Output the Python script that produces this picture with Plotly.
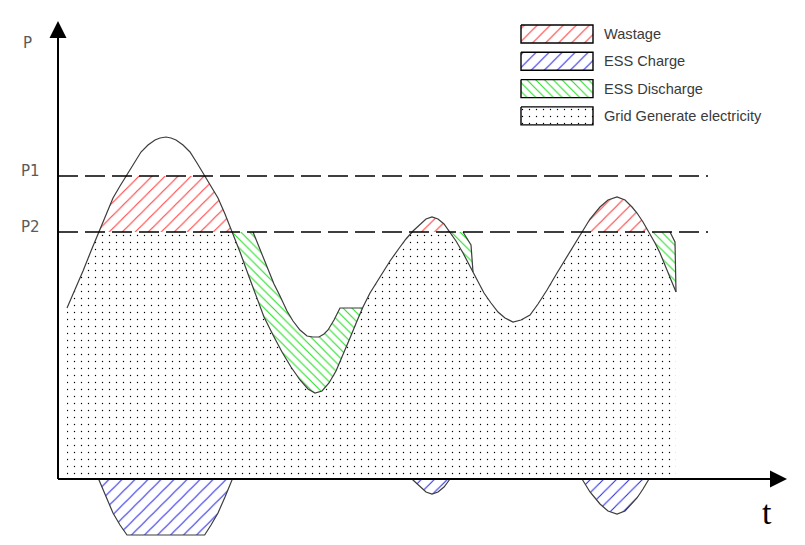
import numpy as np
import plotly.graph_objects as go

# ---------------- data (t = time units, P = power units) ----------------
t_load = [9, 17, 25, 33, 41, 48, 55, 62, 69, 76, 83, 90, 97, 102, 108, 113, 118, 125, 132, 139,
          146, 153, 160, 167, 174, 182, 190, 198, 206, 215, 224, 233, 242, 250, 257, 264, 271,
          278, 285, 292, 299, 305, 312, 322, 332, 342, 348, 355, 362, 368, 374, 380, 386, 392,
          398, 405, 412, 419, 426, 433, 440, 447, 455, 463, 472, 480, 489, 499, 509, 517, 524,
          532, 542, 550, 559, 567, 574, 579, 585, 591, 597, 602, 608, 613, 618]
p_load = [171, 189, 208, 228, 248, 265, 281, 293, 304, 316, 327, 334, 339, 341, 342, 341, 339,
          334, 327, 316, 304, 293, 281, 265, 248, 227, 205, 183, 162, 144, 127, 112, 99, 90, 86,
          88, 96, 108, 124, 141, 158, 172, 186, 202, 218, 232, 240, 248, 255, 260, 262, 260, 255,
          247, 238, 226, 213, 199, 186, 176, 167, 161, 157, 159, 164, 175, 189, 206, 222, 235,
          247, 260, 272, 279, 282, 279, 272, 266, 257, 247, 236, 226, 212, 200, 187]

P1 = 303
P2 = 247

# upper boundaries of the ESS discharge areas
t_dis1 = [174, 195, 202, 209, 216, 222, 229, 235, 242, 249, 255, 261, 266, 270, 276, 282, 305]
p_dis1 = [247, 247, 229, 212, 195, 183, 168, 158, 149, 143, 142, 142, 145, 149, 159, 171, 171]
t_dis2 = [392, 405, 409, 413, 415]
p_dis2 = [247, 247, 241, 234, 207]
t_dis3 = [591, 612, 617, 618]
p_dis3 = [247, 247, 237, 187]

legend_labels = ["Wastage", "ESS Charge", "ESS Discharge", "Grid Generate electricity"]
p_tick_labels = ["P1", "P2"]
axis_names = ["P", "t"]

# ---------------- styles ----------------
RED = "#ff3b3b"
BLUE = "#2b2bea"
GREEN = "#22dd22"
CURVE = "#3c3c3c"
pat_red = dict(shape="/", size=9.2, solidity=0.12, fgcolor=RED, bgcolor="rgba(0,0,0,0)", fillmode="replace")
pat_blue = dict(shape="/", size=9.2, solidity=0.12, fgcolor=BLUE, bgcolor="rgba(0,0,0,0)", fillmode="replace")
pat_green = dict(shape="\\", size=6.2, solidity=0.17, fgcolor=GREEN, bgcolor="rgba(0,0,0,0)", fillmode="replace")
pat_dot = dict(shape=".", size=7, solidity=0.03, fgcolor="black", bgcolor="rgba(0,0,0,0)", fillmode="replace")
patterns = [pat_red, pat_blue, pat_green, pat_dot]


def clip_curve(t, p, lo, hi):
    """Clip a polyline between lo and hi, inserting the crossing points."""
    c = lambda v: min(max(v, lo), hi)
    ot, op = [t[0]], [c(p[0])]
    for i in range(1, len(t)):
        t0, p0, t1, p1 = t[i - 1], p[i - 1], t[i], p[i]
        cross = []
        for lv in (lo, hi):
            if (p0 - lv) * (p1 - lv) < 0:
                cross.append(t0 + (lv - p0) * (t1 - t0) / (p1 - p0))
        for tc in sorted(cross):
            pc = p0 + (p1 - p0) * (tc - t0) / (t1 - t0)
            ot.append(tc)
            op.append(c(pc))
        ot.append(t1)
        op.append(c(p1))
    return ot, op


def sub_curve(t, p, ta, tb):
    xs = [ta] + [v for v in t if ta < v < tb] + [tb]
    ys = [float(np.interp(ta, t, p))] + [pv for v, pv in zip(t, p) if ta < v < tb] + [float(np.interp(tb, t, p))]
    return xs, ys


fig = go.Figure()

# grid generation (dots)
gt, gp = clip_curve(t_load, p_load, -1e9, P2)
fig.add_trace(go.Scatter(x=[gt[0]] + gt + [gt[-1]], y=[0] + gp + [0], mode="none", fill="toself",
                         fillcolor="rgba(0,0,0,0)", fillpattern=pat_dot, hoverinfo="skip"))

# wastage (red)
rt, rp = clip_curve(t_load, p_load, P2, P1)
fig.add_trace(go.Scatter(x=rt + rt[::-1], y=rp + [P2] * len(rt), mode="none", fill="toself",
                         fillcolor="rgba(0,0,0,0)", fillpattern=pat_red, hoverinfo="skip"))

# ESS charge (blue) = wastage stored, mirrored below the t axis
charge = [-(v - P2) for v in rp]
fig.add_trace(go.Scatter(x=rt + rt[::-1], y=charge + [0] * len(rt), mode="none", fill="toself",
                         fillcolor="rgba(0,0,0,0)", fillpattern=pat_blue, hoverinfo="skip"))
fig.add_trace(go.Scatter(x=rt, y=charge, mode="lines", line=dict(color=CURVE, width=1.2), hoverinfo="skip"))

# ESS discharge (green)
for td, pd_ in [(t_dis1, p_dis1), (t_dis2, p_dis2), (t_dis3, p_dis3)]:
    st, sp = sub_curve(t_load, p_load, td[0], td[-1])
    fig.add_trace(go.Scatter(x=td + st[::-1], y=pd_ + sp[::-1], mode="none", fill="toself",
                             fillcolor="rgba(0,0,0,0)", fillpattern=pat_green, hoverinfo="skip"))
    fig.add_trace(go.Scatter(x=td[1:], y=pd_[1:], mode="lines", line=dict(color=CURVE, width=1.2),
                             hoverinfo="skip"))

# load curve
fig.add_trace(go.Scatter(x=t_load, y=p_load, mode="lines", line=dict(color=CURVE, width=1.2), hoverinfo="skip"))

# legend swatches (manual)
LX0, LW, LTOP, LH, LSTEP = 463, 72, 454, 18, 27.3
for i, (lab, pat) in enumerate(zip(legend_labels, patterns)):
    top = LTOP - i * LSTEP
    fig.add_trace(go.Scatter(x=[LX0, LX0 + LW, LX0 + LW, LX0, LX0],
                             y=[top, top, top - LH, top - LH, top], mode="lines", fill="toself",
                             fillcolor="rgba(0,0,0,0)", fillpattern=pat,
                             line=dict(color="black", width=1.4), hoverinfo="skip"))
    fig.add_annotation(x=LX0 + LW + 9, y=top - LH / 2, text=lab, showarrow=False, xanchor="left",
                       yanchor="middle", font=dict(family="Liberation Sans", size=14.6, color="#3a3a3a"))

# reference levels P1, P2
for lv, lab in zip([P1, P2], p_tick_labels):
    fig.add_shape(type="line", x0=0, x1=650, y0=lv, y1=lv, line=dict(color="black", width=1.5, dash="20px,7px"))
    fig.add_annotation(x=-28, y=lv + 5, text=lab, showarrow=False, xanchor="center", yanchor="middle",
                       font=dict(family="DejaVu Sans", size=15, color="#5a5a5a"))

# axes with arrows
fig.add_shape(type="line", x0=0, x1=0, y0=0, y1=445, line=dict(color="black", width=2))
fig.add_shape(type="line", x0=0, x1=715, y0=0, y1=0, line=dict(color="black", width=2))
fig.add_annotation(x=0, y=458, ax=0, ay=400, axref="x", ayref="y", xref="x", yref="y", text="",
                   showarrow=True, arrowhead=2, arrowsize=1.7, arrowwidth=2, arrowcolor="black")
fig.add_annotation(x=729, y=0, ax=660, ay=0, axref="x", ayref="y", xref="x", yref="y", text="",
                   showarrow=True, arrowhead=2, arrowsize=1.7, arrowwidth=2, arrowcolor="black")
fig.add_annotation(x=-31, y=436, text=axis_names[0], showarrow=False,
                   font=dict(family="DejaVu Sans", size=15, color="#5a5a5a"))
fig.add_annotation(x=709, y=-33, text=axis_names[1], showarrow=False,
                   font=dict(family="Liberation Serif", size=34, color="black"))

# the page body adds an 8px offset; ranges compensate so marks land where the reference has them
fig.update_layout(
    width=805, height=545, margin=dict(l=0, r=0, t=0, b=0),
    paper_bgcolor="white", plot_bgcolor="white", showlegend=False,
    xaxis=dict(visible=False, range=[-50, 755], fixedrange=True),
    yaxis=dict(visible=False, range=[-74, 471], fixedrange=True),
)

fig.write_html("out.html")
